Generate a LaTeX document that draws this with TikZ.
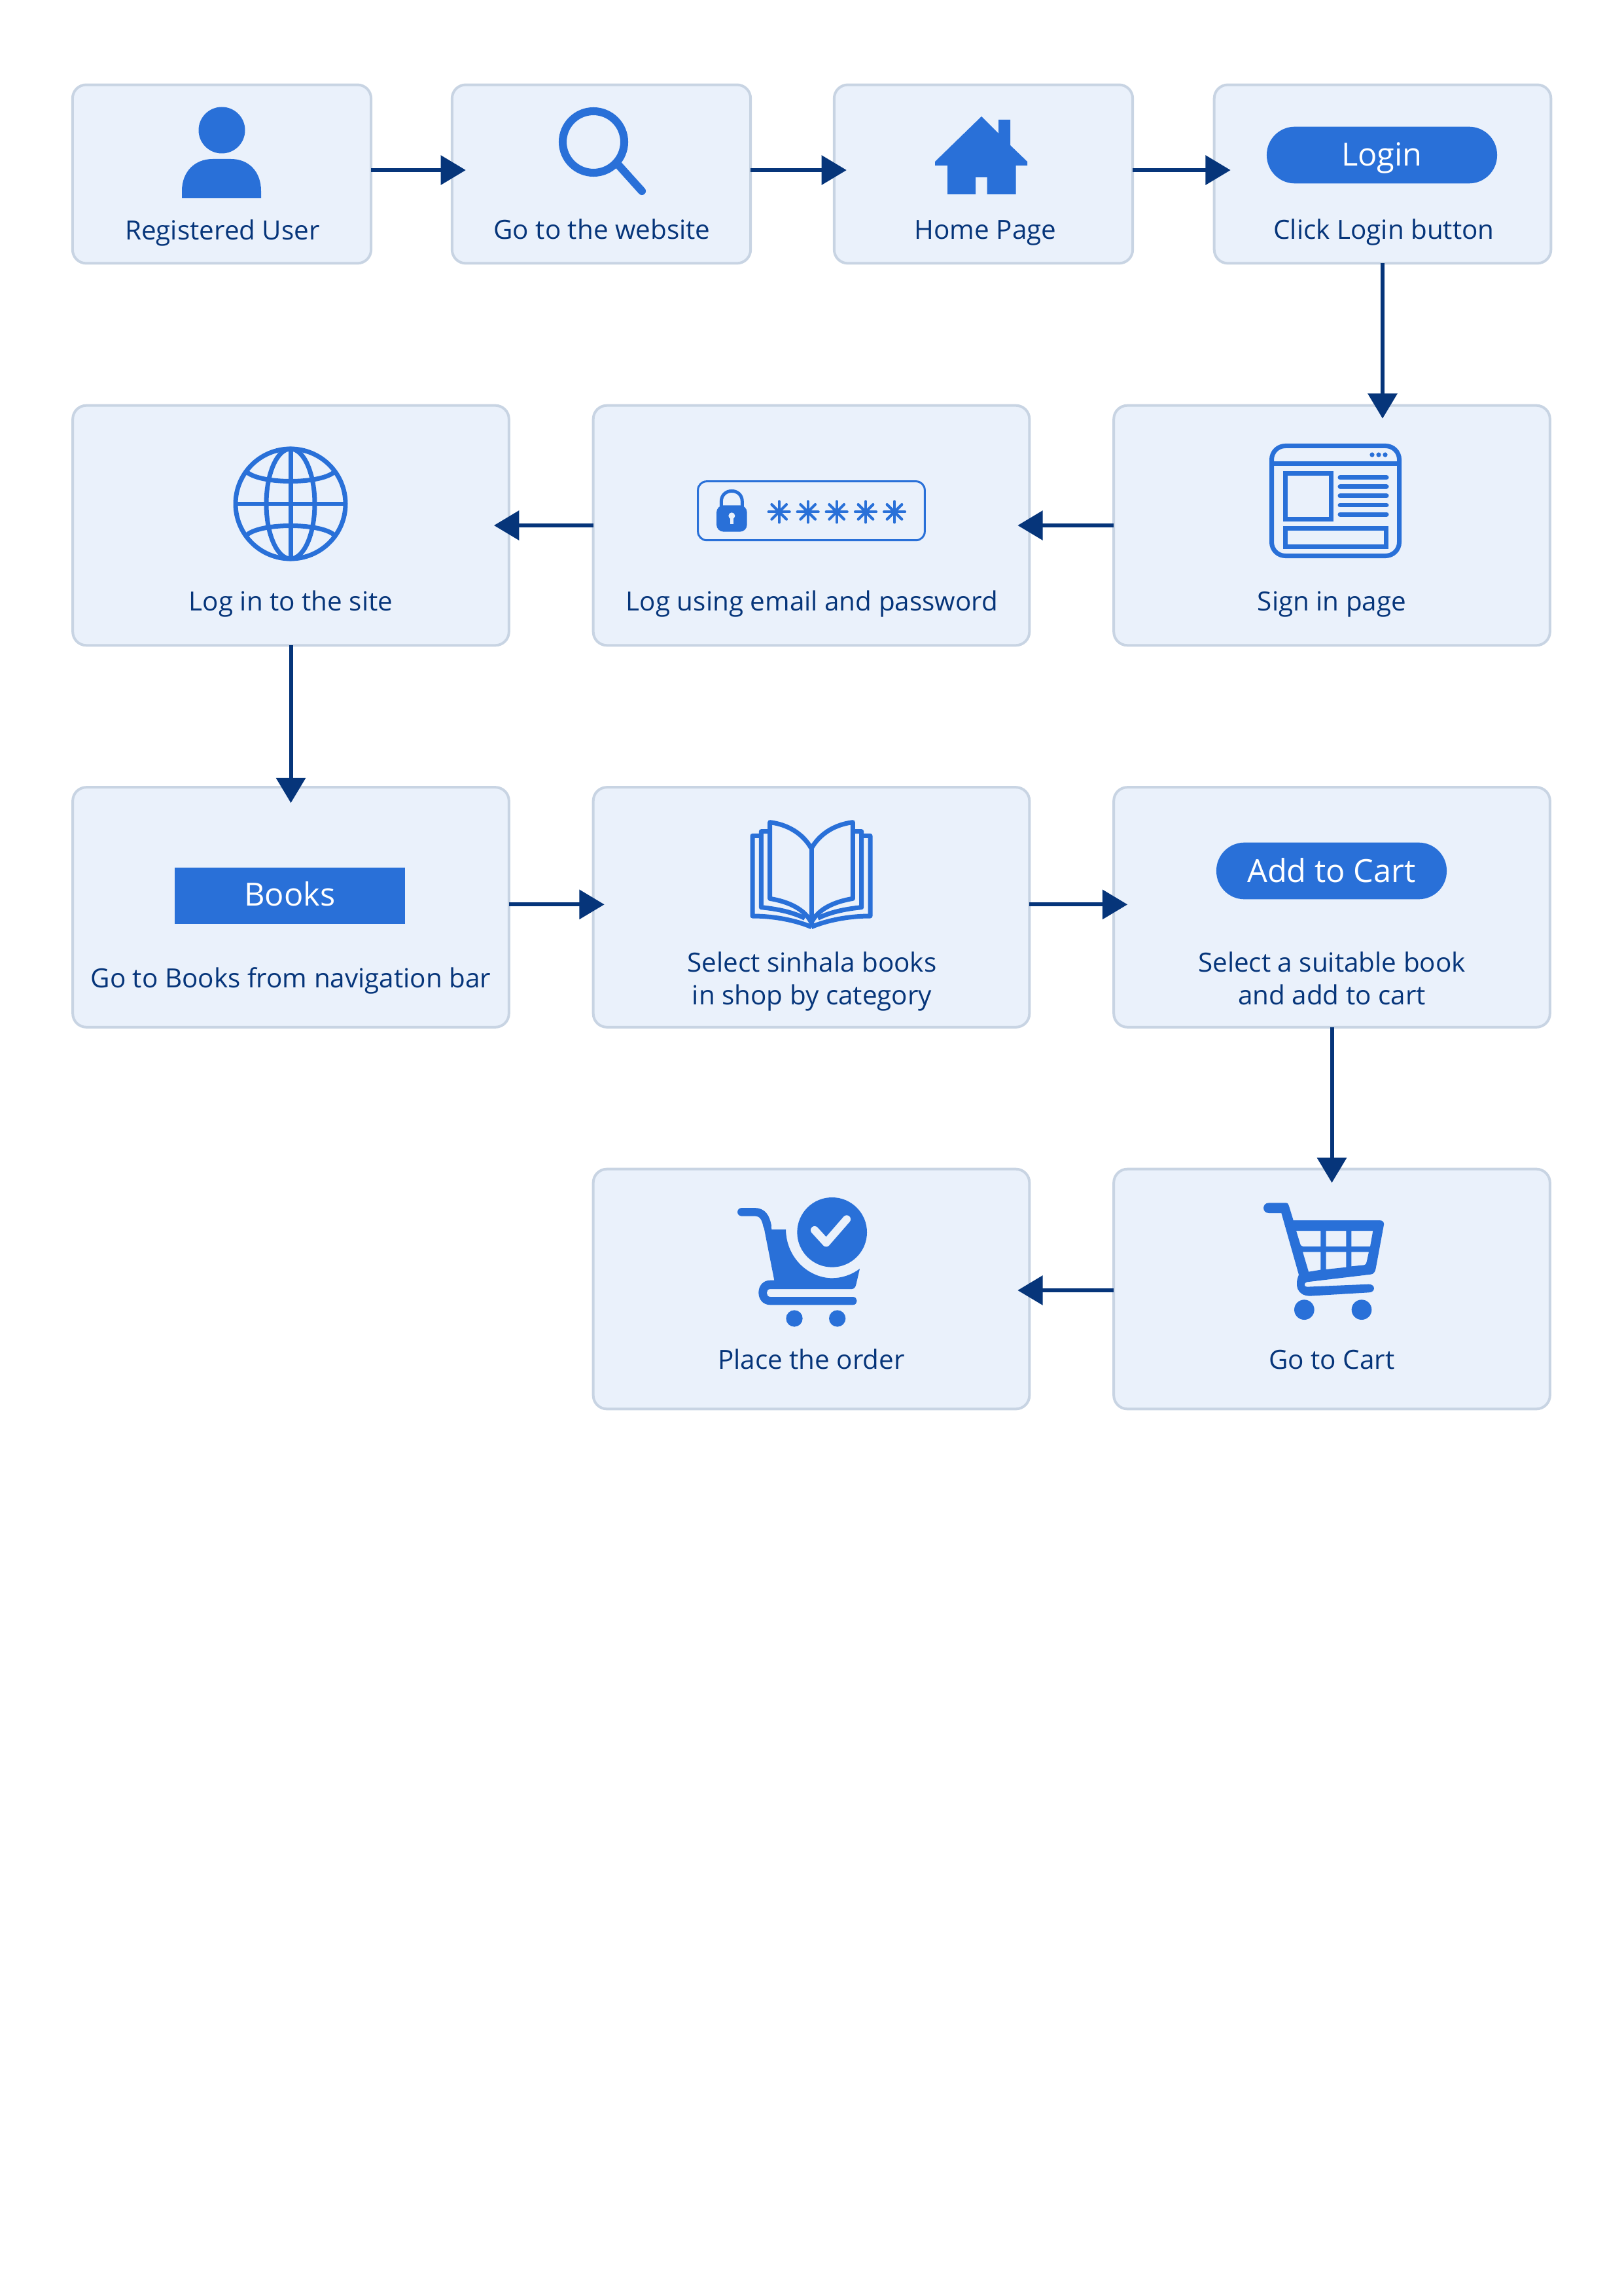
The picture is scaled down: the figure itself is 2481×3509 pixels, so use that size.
\documentclass[tikz,border=0pt]{standalone}
\usepackage{fontspec}
\setmainfont{Open Sans}
\usetikzlibrary{arrows.meta}
\definecolor{boxfill}{HTML}{EAF1FB}
\definecolor{boxedge}{HTML}{C8D4E3}
\definecolor{iconblue}{HTML}{2970D8}
\definecolor{inkblue}{HTML}{06357A}
\tikzset{
  stepbox/.style={rectangle, draw=boxedge, fill=boxfill, line width=0.96pt, rounded corners=5pt, outer sep=0pt},
  smallbox/.style={stepbox, minimum width=109.5pt, minimum height=65.5pt},
  widebox/.style={stepbox, minimum width=160pt, minimum height=88pt},
  caption/.style={text=inkblue, anchor=base, inner sep=0pt, align=center, font=\fontsize{9.7}{12}\selectfont},
  pill/.style={rectangle, fill=iconblue, text=white, minimum width=84.5pt, minimum height=20.8pt, rounded corners=10.3pt, text height=8.6pt, text depth=0.44pt, font=\fontsize{11.7}{14}\selectfont},
  flow/.style={draw=inkblue, line width=1.44pt, -{Triangle[length=9.2pt,width=10.6pt]}, shorten >=#1},
  flow/.default=-5pt,
  icon/.style={draw=iconblue, line width=1.68pt},
  zoomed/.style={x=0.08pt, y=-0.08pt}
}
\begin{document}
\begin{tikzpicture}[x=0.24pt, y=-0.24pt]
\useasboundingbox (0,0) rectangle (2481,3509);
% first row
\node [smallbox] (user) at (339,266) {};
\node [smallbox] (website) at (919,266) {};
\node [smallbox] (home) at (1503,266) {};
\node [stepbox, minimum width=123.5pt, minimum height=65.5pt] (login) at (2113,266) {};
% second row
\node [widebox] (site) at (444.5,803) {};
\node [widebox] (password) at (1240,803) {};
\node [widebox] (signin) at (2035.5,803) {};
% third row
\node [widebox] (books) at (444.5,1386.5) {};
\node [widebox] (shop) at (1240,1386.5) {};
\node [widebox] (addcart) at (2035.5,1386.5) {};
% fourth row
\node [widebox] (order) at (1240,1970) {};
\node [widebox] (cart) at (2035.5,1970) {};
% captions
\node [caption] (usertxt) at (340,367) {Registered User};
\node [caption] (websitetxt) at (920,366) {Go to the website};
\node [caption] (hometxt) at (1506,366) {Home Page};
\node [caption] (logintxt) at (2115,366) {Click Login button};
\node [caption] (sitetxt) at (444.5,933) {Log in to the site};
\node [caption] (passwordtxt) at (1241,933) {Log using email and password};
\node [caption] (signintxt) at (2035.5,933) {Sign in page};
\node [caption] (bookstxt) at (444.5,1509) {Go to Books from navigation bar};
\node [caption] (shoptxt) at (1241,1535) {Select sinhala books\\in shop by category};
\node [caption] (addcarttxt) at (2035.5,1535) {Select a suitable book\\and add to cart};
\node [caption] (ordertxt) at (1240,2092) {Place the order};
\node [caption] (carttxt) at (2035.5,2092) {Go to Cart};
% buttons
\node [pill] (loginbtn) at (2112,237) {Login};
\node [pill, rounded corners=0pt, text height=8pt, text depth=0.8pt] (booksbtn) at (443,1369) {Books};
\node [pill] (addcartbtn) at (2035,1331) {Add to Cart};
% person
\fill [iconblue] (339,199) circle (35.5);
\fill [iconblue] (278,303) -- (278,292) .. controls (278,262) and (298,243) .. (325,243) -- (353,243) .. controls (380,243) and (399,262) .. (399,292) -- (399,303) -- cycle;
% magnifier
\draw [icon, line width=2.9pt] (907,217) circle (47);
\draw [icon, line width=2.9pt, line cap=round] (945,252) -- (981,292);
% house
\fill [iconblue] (1500,178) -- (1526,204) -- (1526,183) -- (1544,183) -- (1544,222) -- (1570,247) -- (1570,253) -- (1552.5,253) -- (1552.5,297) -- (1508.5,297) -- (1508.5,271) -- (1491,271) -- (1491,297) -- (1448,297) -- (1448,253) -- (1429,253) -- (1429,247) -- cycle;
% globe
\draw [icon] (444,770) circle (84);
\draw [icon] (444,770) ellipse (37 and 84);
\draw [icon] (444,686) -- (444,854);
\draw [icon] (360,770) -- (528,770);
\draw [icon] (378,722) .. controls (400,740) and (488,740) .. (510,722);
\draw [icon] (378,817) .. controls (400,799) and (488,799) .. (510,817);
% password field
\begin{scope}[shift={(1050,720)}, zoomed]
\draw [draw=iconblue, line width=0.72pt, rounded corners=3.2pt] (50,47) rectangle (1090,317);
\draw [draw=iconblue, line width=1.2pt] (157,165) -- (157,140) .. controls (157,75) and (253,75) .. (253,140) -- (253,165);
\fill [iconblue, rounded corners=2.6pt] (135,157) rectangle (275,278);
\fill [boxfill] (205,205) circle (15);
\fill [boxfill] (197,205) rectangle (213,242);
\foreach \starx in {422,554,686,819,951} {
  \foreach \ang in {0,45,...,315} {
    \draw [draw=iconblue, line width=1pt, line cap=round] (\starx,187) -- ++(\ang:48);
  }
}
\end{scope}
% browser page
\draw [icon, rounded corners=5pt] (1943.5,681.5) rectangle (2138.5,849.5);
\draw [icon] (1943.5,709) -- (2138.5,709);
\foreach \dotx in {2097,2107,2117} {
  \fill [iconblue] (\dotx,695) circle (3.6);
}
\draw [icon] (1964.5,723.5) rectangle (2034.5,793.5);
\draw [icon] (1964.5,807.5) rectangle (2118.5,835.5);
\foreach \liney in {730,744,758,772,786} {
  \draw [icon, line cap=round] (2048,\liney) -- (2119,\liney);
}
% open book
\begin{scope}[shift={(1130,1240)}, zoomed]
\foreach \side in {1,-1} {
  \begin{scope}[shift={(330,0)}, xscale=\side]
  \draw [icon, line join=round] (0,170) .. controls (-40,100) and (-110,60) .. (-190,50) -- (-190,400) .. controls (-100,415) and (-30,450) .. (0,510);
  \draw [icon, line join=round] (-190,92) -- (-230,92) -- (-230,440) .. controls (-130,450) and (-70,470) .. (-30,490);
  \draw [icon, line join=round] (-230,112) -- (-270,112) -- (-270,480) .. controls (-170,480) and (-70,500) .. (0,530);
  \end{scope}
}
\draw [icon] (330,170) -- (330,525);
\end{scope}
% shopping cart
\begin{scope}[shift={(1910,1820)}, zoomed]
\fill [iconblue, even odd rule]
  (88,55) -- (165,55) .. controls (175,55) and (178,62) .. (180,70) -- (200,135) -- (595,135) .. controls (610,135) and (617,145) .. (615,155) -- (578,355) .. controls (575,372) and (568,381) .. (555,383) -- (262,418) .. controls (248,420) and (248,441) .. (262,440) -- (545,428) .. controls (578,428) and (578,466) .. (545,466) -- (275,482) .. controls (215,480) and (205,430) .. (225,385) -- (145,102) -- (88,102) .. controls (55,102) and (55,55) .. (88,55) -- cycle
  (213,183) -- (325,183) -- (325,255) -- (245,255) .. controls (238,255) and (234,250) .. (232,245) -- cycle
  (350,183) -- (442,183) -- (442,255) -- (350,255) -- cycle
  (466,183) -- (565,183) -- (552,255) -- (466,255) -- cycle
  (243,280) -- (325,280) -- (325,362) -- (270,371) -- cycle
  (350,280) -- (442,280) -- (442,350) -- (350,360) -- cycle
  (466,280) -- (546,280) -- (536,325) .. controls (534,335) and (530,339) .. (525,340) -- (466,346) -- cycle;
\fill [iconblue] (250,545) circle (46);
\fill [iconblue] (513,545) circle (46);
\end{scope}
% cart with tick
\begin{scope}[shift={(1090,1810)}, zoomed]
\fill [iconblue] (545,220) circle (160);
\draw [draw=boxfill, line width=2.9pt, line cap=round, line join=round] (465,210) -- (518,268) -- (612,160);
\draw [draw=iconblue, line width=3pt, line cap=round] (130,127) -- (190,127) .. controls (225,127) and (240,150) .. (248,190);
\fill [iconblue] (228,175) -- (262,175) -- (268,207) -- (333,207) .. controls (335,340) and (440,430) .. (545,430) .. controls (590,430) and (635,415) .. (672,387) -- (655,460) .. controls (652,473) and (645,480) .. (635,480) -- (262,480) .. controls (240,480) and (240,516) .. (262,516) -- (640,516) .. controls (665,516) and (665,553) .. (640,553) -- (262,553) .. controls (190,553) and (190,440) .. (262,440) -- (280,440) -- cycle;
\fill [iconblue] (372,615) circle (38);
\fill [iconblue] (569,615) circle (38);
\end{scope}
% connectors
\draw [flow=-5.04pt] ([yshift=1.44pt]user.east) -- ([yshift=1.44pt]website.west);
\draw [flow=-4.56pt] ([yshift=1.44pt]website.east) -- ([yshift=1.44pt]home.west);
\draw [flow=-6pt] ([yshift=1.44pt]home.east) -- ([yshift=1.44pt]login.west);
\draw [flow=-4.8pt] (login.south) -- (login.south |- signin.north);
\draw [flow=-4.32pt] (signin.west) -- (password.east);
\draw [flow=-5.5pt] (password.west) -- (site.east);
\draw [flow=-5.76pt] (site.south) -- (books.north);
\draw [flow=-4.08pt] ([yshift=1pt]books.east) -- ([yshift=1pt]shop.west);
\draw [flow=-5.04pt] ([yshift=1pt]shop.east) -- ([yshift=1pt]addcart.west);
\draw [flow=-5.04pt] (addcart.south) -- (cart.north);
\draw [flow=-4.32pt] ([yshift=-0.48pt]cart.west) -- ([yshift=-0.48pt]order.east);
\end{tikzpicture}
\end{document}
